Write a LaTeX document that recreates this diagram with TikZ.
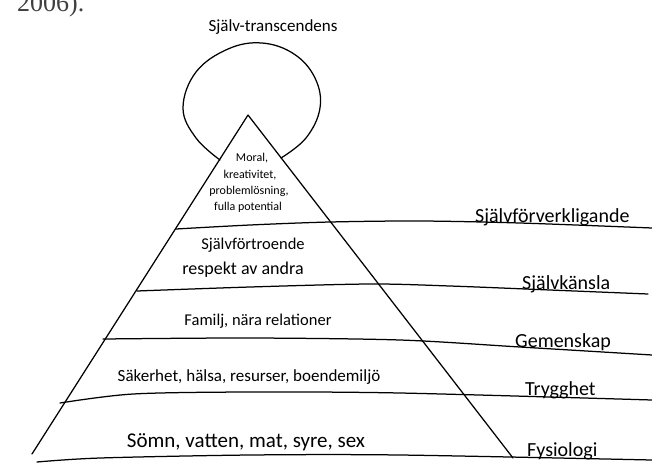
\documentclass[tikz,border=0pt]{standalone}
\usepackage{fontspec}
\setmainfont{Carlito}
\newfontfamily\serifref{Liberation Serif}
\begin{document}
\begin{tikzpicture}[x=1pt,y=-1pt,
  ink/.style={line width=1.25pt, line cap=round, line join=round},
  lvl/.style={font=\fontsize{16.5}{18}\selectfont, inner sep=0pt},
  tip/.style={font=\fontsize{12}{14}\selectfont, inner sep=0pt},
  side/.style={font=\fontsize{20}{22}\selectfont, inner sep=0pt, anchor=base west}]
\useasboundingbox (0,0) rectangle (652,463);
\clip (0,0) rectangle (652,463);
% stray citation text at top-left
\node[anchor=base west, inner sep=0pt, text=black!75, font=\serifref\fontsize{26}{28}\selectfont] (cite) at (17,11) {2006).};
% title
\node[font=\fontsize{17}{19}\selectfont, inner sep=0pt] (title) at (273,27) {Själv-transcendens};
% balloon
\draw[ink] plot[smooth, tension=0.65] coordinates {(220,160) (196,138) (183,108) (196,72) (228,49) (262,43) (294,54) (315,78) (320,108) (306,138) (281,158)};
% pyramid sides
\coordinate (apex) at (248,115);
\coordinate (bl) at (32,454);
\coordinate (br) at (513,458);
\draw[ink] (bl) -- (apex) -- (br);
% level lines
\draw[ink] plot[smooth, tension=0.5] coordinates {(176,229) (250,225) (330,222) (420,221) (520,223) (652,228)};
\draw[ink] plot[smooth, tension=0.5] coordinates {(137,291) (250,287) (370,284) (450,286) (550,290) (648,294)};
\draw[ink] plot[smooth, tension=0.5] coordinates {(103,339) (250,338) (400,340) (520,347) (652,355)};
\draw[ink] plot[smooth, tension=0.5] coordinates {(60,403) (133,394) (250,392) (400,393) (652,400)};
\draw[ink] plot[smooth, tension=0.5] coordinates {(37,462) (100,458) (250,455) (400,455) (652,460)};
% texts inside pyramid
\node[tip] (t1) at (252,158) {Moral,};
\node[tip] (t2) at (250,175) {kreativitet,};
\node[tip] (t3) at (249,191) {problemlösning,};
\node[tip] (t4) at (248,207) {fulla potential};
\node[lvl] (s1) at (253,245) {Självförtroende};
\node[lvl, font=\fontsize{18}{20}\selectfont] (s2) at (243,270) {respekt av andra};
\node[lvl] (g1) at (258,321) {Familj, nära relationer};
\node[lvl, font=\fontsize{17}{19}\selectfont] (r1) at (249,377) {Säkerhet, hälsa, resurser, boendemiljö};
\node[lvl, font=\fontsize{21}{23}\selectfont] (f1) at (246,442) {Sömn, vatten, mat, syre, sex};
% side labels
\node[side] (l1) at (475,222) {Självförverkligande};
\node[side] (l2) at (522,289) {Självkänsla};
\node[side] (l3) at (515,347) {Gemenskap};
\node[side] (l4) at (525,395) {Trygghet};
\node[side] (l5) at (527,456) {Fysiologi};
\end{tikzpicture}
\end{document}
